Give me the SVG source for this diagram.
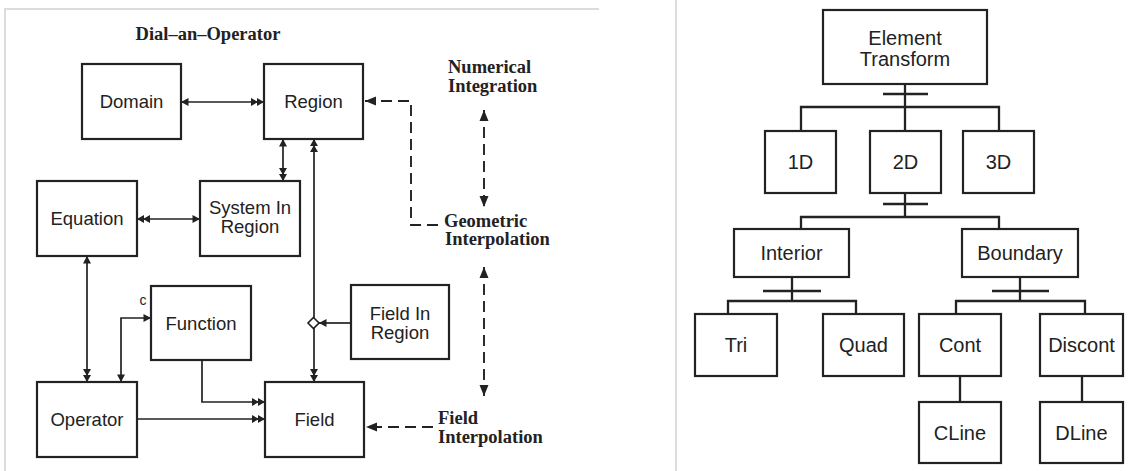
<svg xmlns="http://www.w3.org/2000/svg" width="1134" height="471" viewBox="0 0 1134 471">
<style>
.frame{fill:none;stroke:#dcdcdc;stroke-width:2}
.box{fill:#fff;stroke:#222;stroke-width:2.2}
.lbl{font-family:"Liberation Sans",Arial,sans-serif;font-size:18.5px;fill:#222;text-anchor:middle}
.lbr{font-family:"Liberation Sans",Arial,sans-serif;font-size:20px;fill:#222;text-anchor:middle}
.ann{font-family:"Liberation Serif","Times New Roman",serif;font-weight:bold;font-size:18.5px;fill:#222}
.ln{fill:none;stroke:#222;stroke-width:1.7}
.dash{fill:none;stroke:#222;stroke-width:1.9;stroke-dasharray:11,6}
.tree{fill:none;stroke:#222;stroke-width:2.3}
</style>
<defs>
<marker id="a1" viewBox="-10 -5 12 10" refX="0" refY="0" markerWidth="12" markerHeight="10" markerUnits="userSpaceOnUse" orient="auto-start-reverse"><path d="M0,0 L-7.5,-4 L-7.5,4 Z" fill="#222"/></marker>
<marker id="a2" viewBox="-16 -5 18 10" refX="0" refY="0" markerWidth="18" markerHeight="10" markerUnits="userSpaceOnUse" orient="auto-start-reverse"><path d="M0,0 L-7,-4 L-7,4 Z M-6,0 L-13,-4 L-13,4 Z" fill="#222"/></marker>
<marker id="ad" viewBox="-12 -5 14 10" refX="0" refY="0" markerWidth="14" markerHeight="10" markerUnits="userSpaceOnUse" orient="auto-start-reverse"><path d="M0,0 L-11,-4.5 L-11,4.5 Z" fill="#222"/></marker>
</defs>

<g id="frames">
<path class="frame" d="M5,471 V9 H599"/>
<path class="frame" d="M676,0 V471"/>
</g>

<text class="ann" x="208" y="40" text-anchor="middle">Dial–an–Operator</text>

<g id="connectors">
<path class="ln" d="M181,102 H264" marker-start="url(#a1)" marker-end="url(#a2)"/>
<path class="ln" d="M283,139 V181" marker-start="url(#a1)" marker-end="url(#a2)"/>
<path class="ln" d="M314,139 V382" marker-start="url(#a2)" marker-end="url(#a2)"/>
<path class="ln" d="M137,219 H200" marker-start="url(#a2)" marker-end="url(#a1)"/>
<path class="ln" d="M87,256 V382" marker-start="url(#a1)" marker-end="url(#a2)"/>
<path class="ln" d="M151,318 H121 V382" marker-start="url(#a1)" marker-end="url(#a1)"/>
<path class="ln" d="M202,360 V402 H265" marker-end="url(#a2)"/>
<path class="ln" d="M137,419 H265" marker-end="url(#a2)"/>
<path class="ln" d="M351,323 H319" marker-end="url(#a1)"/>
<polygon points="313.5,317.5 319,323 313.5,328.5 308,323" fill="#fff" stroke="#222" stroke-width="1.6"/>
<path class="dash" d="M438,225 H411 V101 H365" marker-end="url(#ad)"/>
<path class="dash" d="M484,110 V207" marker-start="url(#ad)" marker-end="url(#ad)"/>
<path class="dash" d="M484,267 V396" marker-start="url(#ad)" marker-end="url(#ad)"/>
<path class="dash" d="M433,427 H366" marker-end="url(#ad)"/>
</g>

<g id="domain"><rect class="box" x="82" y="64" width="99" height="75"/><text class="lbl" x="131.5" y="108">Domain</text></g>
<g id="region"><rect class="box" x="264" y="64" width="99" height="75"/><text class="lbl" x="313.5" y="108">Region</text></g>
<g id="equation"><rect class="box" x="37" y="181" width="100" height="75"/><text class="lbl" x="87" y="225">Equation</text></g>
<g id="system-in-region"><rect class="box" x="200" y="181" width="100" height="75"/><text class="lbl" x="250" y="214">System In</text><text class="lbl" x="250" y="233">Region</text></g>
<g id="function"><rect class="box" x="151" y="286" width="100" height="74"/><text class="lbl" x="201" y="330">Function</text></g>
<text class="lbl" x="143" y="305" style="font-size:14px">c</text>
<g id="field-in-region"><rect class="box" x="351" y="285" width="98" height="74"/><text class="lbl" x="400" y="320">Field In</text><text class="lbl" x="400" y="339">Region</text></g>
<g id="operator"><rect class="box" x="37" y="382" width="100" height="75"/><text class="lbl" x="87" y="426">Operator</text></g>
<g id="field"><rect class="box" x="265" y="382" width="99" height="75"/><text class="lbl" x="314.5" y="426">Field</text></g>

<g id="numerical-integration"><text class="ann" x="448" y="73">Numerical</text><text class="ann" x="448" y="92">Integration</text></g>
<g id="geometric-interpolation"><text class="ann" x="444" y="227">Geometric</text><text class="ann" x="445" y="245">Interpolation</text></g>
<g id="field-interpolation"><text class="ann" x="438" y="424">Field</text><text class="ann" x="438" y="443">Interpolation</text></g>

<g id="tree-connectors">
<path class="tree" d="M905,84 V131 M883,94 H928 M801,131 V107 H999 V131"/>
<path class="tree" d="M905,193 V217 M883,204 H928 M801,229 V217 H999 V229"/>
<path class="tree" d="M792,277 V301 M763,291 H821 M728,314 V301 H856 V314"/>
<path class="tree" d="M1020,277 V301 M992,291 H1049 M956,314 V301 H1085 V314"/>
<path class="tree" d="M960,376 V402 M1082,376 V402"/>
</g>

<g id="element-transform"><rect class="box" x="823" y="10" width="164" height="74"/><text class="lbr" x="905" y="45">Element</text><text class="lbr" x="905" y="66">Transform</text></g>
<g id="n1d"><rect class="box" x="765" y="131" width="71" height="62"/><text class="lbr" x="800.5" y="169">1D</text></g>
<g id="n2d"><rect class="box" x="870" y="131" width="71" height="62"/><text class="lbr" x="905.5" y="169">2D</text></g>
<g id="n3d"><rect class="box" x="963" y="131" width="71" height="62"/><text class="lbr" x="998.5" y="169">3D</text></g>
<g id="interior"><rect class="box" x="734" y="229" width="115" height="48"/><text class="lbr" x="791.5" y="260">Interior</text></g>
<g id="boundary"><rect class="box" x="962" y="229" width="116" height="48"/><text class="lbr" x="1020" y="260">Boundary</text></g>
<g id="tri"><rect class="box" x="695" y="314" width="82" height="62"/><text class="lbr" x="736" y="352">Tri</text></g>
<g id="quad"><rect class="box" x="823" y="314" width="81" height="62"/><text class="lbr" x="863.5" y="352">Quad</text></g>
<g id="cont"><rect class="box" x="919" y="314" width="82" height="62"/><text class="lbr" x="960" y="352">Cont</text></g>
<g id="discont"><rect class="box" x="1040" y="314" width="83" height="62"/><text class="lbr" x="1081.5" y="352">Discont</text></g>
<g id="cline"><rect class="box" x="919" y="402" width="82" height="61"/><text class="lbr" x="960" y="440">CLine</text></g>
<g id="dline"><rect class="box" x="1040" y="402" width="83" height="61"/><text class="lbr" x="1081.5" y="440">DLine</text></g>
</svg>
